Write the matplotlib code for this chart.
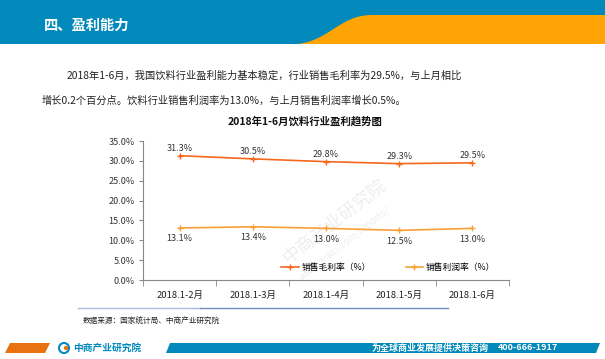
import numpy as np
import matplotlib
matplotlib.use('Agg')
import matplotlib.pyplot as plt
from matplotlib.path import Path
from matplotlib.patches import PathPatch, Polygon, Circle

plt.rcParams['font.family'] = ['Noto Sans CJK SC', 'DejaVu Sans']

# data
months = ['2018.1-2月', '2018.1-3月', '2018.1-4月', '2018.1-5月', '2018.1-6月']
gross_margin = [31.3, 30.5, 29.8, 29.3, 29.5]
net_margin = [13.1, 13.4, 13.0, 12.5, 13.0]
series_names = ['销售毛利率（%）', '销售利润率（%）']
yticks = [0, 5, 10, 15, 20, 25, 30, 35]

W, H = 605, 359
fig = plt.figure(figsize=(W / 100, H / 100), dpi=100)

# page decoration in pixel coordinates
bg = fig.add_axes([0, 0, 1, 1])
bg.set_xlim(0, W)
bg.set_ylim(H, 0)
bg.axis('off')

blue = '#0289BC'
orange = '#FFA405'
bg.add_patch(Polygon([(0, 0), (W, 0), (W, 44), (0, 44)], closed=True, color=blue, lw=0))
verts = [(298, 44), (330, 40), (340, 15), (372, 15), (W, 15), (W, 44), (298, 44)]
codes = [Path.MOVETO, Path.CURVE4, Path.CURVE4, Path.CURVE4, Path.LINETO, Path.LINETO, Path.CLOSEPOLY]
bg.add_patch(PathPatch(Path(verts, codes), color=orange, lw=0))
bg.text(44, 26, '四、盈利能力', color='white', fontsize=10.3, fontweight='bold', va='center')

bg.text(67, 76, '2018年1-6月，我国饮料行业盈利能力基本稳定，行业销售毛利率为29.5%，与上月相比',
        fontsize=7.35, color='#222222', va='center')
bg.text(42, 101, '增长0.2个百分点。饮料行业销售利润率为13.0%，与上月销售利润率增长0.5%。',
        fontsize=7.35, color='#222222', va='center')
bg.text(305, 121, '2018年1-6月饮料行业盈利趋势图', fontsize=7.5, fontweight='bold',
        ha='center', va='center', color='#111111')

# watermark
bg.text(335, 222, '中商产业研究院', fontsize=13, rotation=38, color='#eeeeee',
        ha='center', va='center', zorder=0)
bg.text(345, 243, 'www.askci.com/reports/', fontsize=7, rotation=38, color='#eeeeee',
        ha='center', va='center', zorder=0)

# separator under chart
bg.plot([78, 200], [308, 308], color='#a9c0dd', lw=1)
bg.plot([200, 448], [308, 308], color='#6f8fbd', lw=1)
bg.text(83, 322, '数据来源：国家统计局、中商产业研究院', fontsize=5.5, color='#222222', va='center')

# footer
bg.add_patch(Polygon([(5, 353), (10, 343), (50, 343), (45, 353)], closed=True, color='#E8720F', lw=0))
bg.add_patch(Polygon([(166, 353), (170, 343), (600, 343), (596, 353)], closed=True, color=blue, lw=0))
bg.add_patch(Circle((64, 348), 5, facecolor='white', edgecolor=blue, lw=1.5))
bg.add_patch(Circle((66, 348), 2.2, color='#E8720F', lw=0))
bg.text(73, 348, '中商产业研究院', fontsize=7, color=blue, fontweight='bold', va='center')
bg.text(372, 348, '为全球商业发展提供决策咨询', fontsize=6.5, color='white', fontweight='bold', va='center')
bg.text(498, 348, '400-666-1917', fontsize=6.5, color='white', fontweight='bold', va='center')

# chart
left, right, top, bottom = 143, 509, 141, 280
ax = fig.add_axes([left / W, (H - bottom) / H, (right - left) / W, (bottom - top) / H])
ax.patch.set_alpha(0)

x = np.arange(len(months))
c1 = '#F4681F'
c2 = '#F9A137'
ax.plot(x, gross_margin, color=c1, lw=1.2, marker='+', ms=4, mew=1, label=series_names[0])
ax.plot(x, net_margin, color=c2, lw=1.2, marker='+', ms=4, mew=1, label=series_names[1])

for i, v in enumerate(gross_margin):
    ax.text(x[i], v + 1.9, f'{v:.1f}%', ha='center', va='center', fontsize=6.5, color='#333333')
for i, v in enumerate(net_margin):
    ax.text(x[i], v - 2.7, f'{v:.1f}%', ha='center', va='center', fontsize=6.5, color='#333333')

ax.set_xlim(-0.5, len(months) - 0.5)
ax.set_ylim(0, 35)
ax.set_yticks(yticks)
ax.set_yticklabels([f'{t:.1f}%' for t in yticks], fontsize=6.5, color='#333333')
ax.set_xticks(x)
ax.set_xticklabels(months, fontsize=6.8, color='#222222')
ax.set_xticks(np.arange(-0.5, len(months)), minor=True)
ax.tick_params(axis='x', which='major', length=0, pad=8)
ax.tick_params(axis='x', which='minor', length=4, color='#888888', direction='out')
ax.tick_params(axis='y', length=3, color='#888888', pad=3)

for s in ['top', 'right']:
    ax.spines[s].set_visible(False)
ax.spines['left'].set_color('#888888')
ax.spines['bottom'].set_color('#888888')
ax.spines['left'].set_linewidth(0.8)
ax.spines['bottom'].set_linewidth(0.8)

ax.legend(ncol=2, loc='center', bbox_to_anchor=(0.67, 0.09), frameon=False, fontsize=6.3,
          handlelength=2, columnspacing=4, handletextpad=0.3)

fig.savefig('out.png', dpi=100)
